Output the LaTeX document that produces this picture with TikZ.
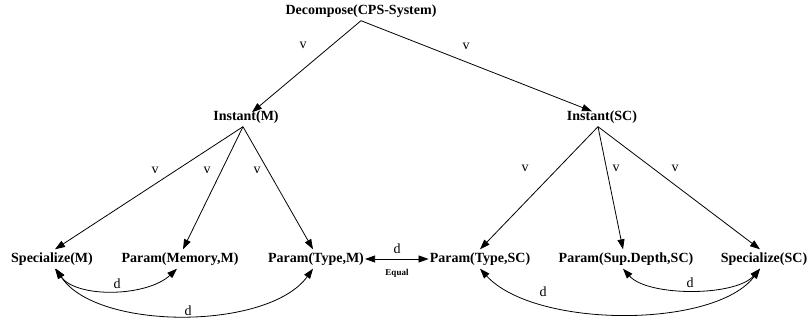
\documentclass[tikz,border=0pt]{standalone}
\usepackage{fontspec}
\setmainfont{Liberation Serif}
\usetikzlibrary{arrows.meta}
\begin{document}
\begin{tikzpicture}[x=1pt,y=-1pt,
  lab/.style={font=\fontsize{14}{16}\selectfont\bfseries, inner xsep=1pt, inner ysep=3pt, text height=10pt, text depth=3pt},
  elab/.style={font=\fontsize{14}{16}\selectfont, inner sep=0pt},
  small/.style={font=\fontsize{9}{10}\selectfont\bfseries, inner sep=0pt},
  edge/.style={line width=0.8pt, -{Triangle[length=10pt,width=7pt]}},
  dedge/.style={line width=0.8pt, {Triangle[length=10pt,width=7pt]}-{Triangle[length=10pt,width=7pt]}}]
\useasboundingbox (0,0) rectangle (812,324);
% nodes
\node[lab] (dec) at (361,11) {Decompose(CPS-System)};
\node[lab] (im) at (246,117) {Instant(M)};
\node[lab] (isc) at (602,117) {Instant(SC)};
\node[lab] (sm) at (52,259) {Specialize(M)};
\node[lab] (pmm) at (180,259) {Param(Memory,M)};
\node[lab] (ptm) at (316,259) {Param(Type,M)};
\node[lab] (ptsc) at (480,259) {Param(Type,SC)};
\node[lab] (psd) at (626,259) {Param(Sup.Depth,SC)};
\node[lab] (ssc) at (764,259) {Specialize(SC)};
% v edges
\draw[edge] (dec.south) -- ([xshift=6pt,yshift=-5pt]im.north);
\draw[edge] (dec.south) -- ([xshift=-10pt,yshift=-4pt]isc.north);
\draw[edge] ([xshift=-3pt]im.south) -- ([xshift=3pt]sm.north);
\draw[edge] ([xshift=-3pt]im.south) -- ([xshift=3pt]pmm.north);
\draw[edge] ([xshift=-3pt]im.south) -- ([xshift=-3pt]ptm.north);
\draw[edge] ([xshift=-4pt]isc.south) -- (ptsc.north);
\draw[edge] ([xshift=-4pt]isc.south) -- ([xshift=-3pt]psd.north);
\draw[edge] ([xshift=-4pt]isc.south) -- ([xshift=-4pt]ssc.north);
\node[elab] (v1) at (303,45) {v};
\node[elab] (v2) at (466,46) {v};
\node[elab] (v3) at (155,170) {v};
\node[elab] (v4) at (207,170) {v};
\node[elab] (v5) at (257,170) {v};
\node[elab] (v6) at (525,168) {v};
\node[elab] (v7) at (616,168) {v};
\node[elab] (v8) at (675,168) {v};
% d edges
\draw[dedge] (ptm.east) -- (ptsc.west);
\node[elab] (d0) at (397,249) {d};
\node[small] (eq) at (397,273) {Equal};
\draw[dedge] ([xshift=3pt]sm.south) .. controls +(22,30) and +(-30,28) .. ([xshift=-3pt]pmm.south);
\node[elab] (d1) at (117,284) {d};
\draw[dedge] ([xshift=4pt]sm.south) .. controls +(40,62) and +(-45,62) .. ([xshift=-3pt]ptm.south);
\node[elab] (d2) at (188,311) {d};
\draw[dedge] ([xshift=-4pt]ssc.south) .. controls +(-25,28) and +(25,28) .. ([xshift=-3pt]psd.south);
\node[elab] (d3) at (690,283) {d};
\draw[dedge] ([xshift=-4pt]ssc.south) .. controls +(-45,60) and +(55,60) .. (ptsc.south);
\node[elab] (d4) at (543,292) {d};
\end{tikzpicture}
\end{document}
